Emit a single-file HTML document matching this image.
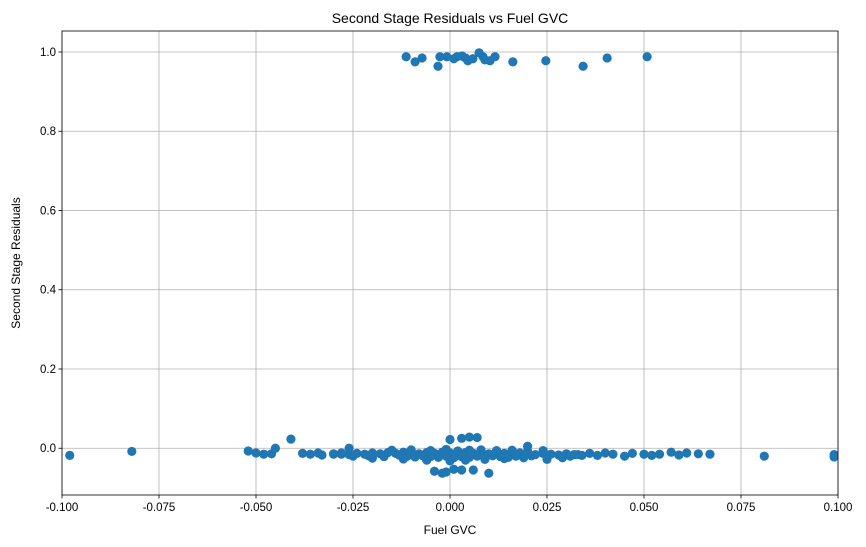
<!DOCTYPE html>
<html><head><meta charset="utf-8"><style>
body{margin:0;background:#fff;}
svg{display:block;font-family:"Liberation Sans","DejaVu Sans",sans-serif;}
</style></head><body>
<svg id="chart" width="866" height="547" viewBox="0 0 866 547"></svg>
<script>
const xTicks=[-0.100,-0.075,-0.050,-0.025,0.000,0.025,0.050,0.075,0.100];
const xTickLabels=["-0.100","-0.075","-0.050","-0.025","0.000","0.025","0.050","0.075","0.100"];
const yTicks=[0.0,0.2,0.4,0.6,0.8,1.0];
const yTickLabels=["0.0","0.2","0.4","0.6","0.8","1.0"];
const topX=[-0.0113,-0.009,-0.0072,-0.0031,-0.0026,-0.0008,0.001,0.0018,0.0031,0.004,0.0046,0.0059,0.0075,0.0085,0.009,0.0103,0.0116,0.0162,0.0247,0.0343,0.0405,0.0508];
const topY=[0.988,0.975,0.985,0.964,0.988,0.988,0.983,0.988,0.990,0.985,0.978,0.983,0.998,0.988,0.980,0.978,0.988,0.975,0.978,0.964,0.985,0.988];
const outX=[-0.098,-0.082,-0.052,-0.050,-0.048,-0.046,-0.045,-0.041,-0.038,-0.036,-0.034,-0.033,-0.030,-0.028,-0.026,0.000,0.003,0.005,0.007,0.020,-0.004,-0.002,-0.001,0.001,0.003,0.006,0.010,0.045,0.047,0.050,0.052,0.054,0.057,0.059,0.061,0.064,0.067,0.081,0.099,0.099,0.042,0.040,0.038,0.036,0.033,0.031];
const outY=[-0.018,-0.008,-0.007,-0.012,-0.015,-0.014,0.000,0.023,-0.013,-0.015,-0.012,-0.017,-0.015,-0.015,0.000,0.022,0.025,0.028,0.027,0.005,-0.058,-0.063,-0.060,-0.053,-0.055,-0.055,-0.063,-0.020,-0.013,-0.015,-0.018,-0.015,-0.010,-0.017,-0.012,-0.014,-0.015,-0.020,-0.016,-0.022,-0.015,-0.012,-0.018,-0.013,-0.016,-0.020];
const bandX=[-0.030,-0.028,-0.026,-0.024,-0.022,-0.020,-0.018,-0.016,-0.014,-0.012,-0.010,-0.008,-0.006,-0.004,-0.002,0.000,0.002,0.004,0.006,0.008,0.010,0.012,0.014,0.016,0.018,0.020,0.022,0.024,0.026,0.028,0.030,0.032,0.034,
-0.025,-0.021,-0.017,-0.013,-0.011,-0.009,-0.007,-0.005,-0.003,-0.001,0.001,0.003,0.005,0.007,0.009,0.011,0.013,0.015,0.017,0.019,0.021,0.025,0.029,
-0.015,-0.010,-0.005,-0.001,0.002,0.005,0.008,0.012,0.016,0.020,0.024,-0.020,-0.012,-0.006,0.000,0.004,0.009,0.014,0.019];
const bandY=[-0.014,-0.012,-0.016,-0.013,-0.015,-0.012,-0.014,-0.011,-0.013,-0.010,-0.012,-0.014,-0.011,-0.013,-0.010,-0.012,-0.014,-0.011,-0.013,-0.012,-0.014,-0.011,-0.013,-0.015,-0.012,-0.014,-0.016,-0.013,-0.015,-0.017,-0.014,-0.016,-0.018,
-0.020,-0.019,-0.021,-0.018,-0.020,-0.022,-0.019,-0.021,-0.023,-0.020,-0.024,-0.021,-0.023,-0.020,-0.022,-0.019,-0.021,-0.023,-0.020,-0.022,-0.019,-0.028,-0.024,
-0.005,-0.004,-0.006,-0.003,-0.007,-0.005,-0.004,-0.006,-0.005,-0.007,-0.006,-0.025,-0.027,-0.030,-0.032,-0.030,-0.028,-0.026,-0.024];

const L=62,R=838,T=31,B=495;
const xs=v=>L+(v+0.1)/0.2*(R-L);
const ys=v=>B-(v+0.118)/(1.053+0.118)*(B-T);
const svg=document.getElementById('chart');
const NS='http://www.w3.org/2000/svg';
function mk(tag,attrs,parent){const e=document.createElementNS(NS,tag);for(const k in attrs)e.setAttribute(k,attrs[k]);(parent||svg).appendChild(e);return e;}

const grid=mk('g',{});


xTicks.forEach((t,i)=>{
  const x=xs(t);
  const gl=mk('line',{x1:x,x2:x,y1:T,y2:B,stroke:'#b0b0b0','stroke-width':0.8},grid);
  
  
  mk('line',{x1:x,x2:x,y1:B,y2:B+3.5,stroke:'#000','stroke-width':0.8});
  const tx=mk('text',{x:x,y:B+16,'font-size':11.5,'text-anchor':'middle'});
  tx.textContent=xTickLabels[i];
  
  
});
yTicks.forEach((t,i)=>{
  const y=ys(t);
  const gl=mk('line',{x1:L,x2:R,y1:y,y2:y,stroke:'#b0b0b0','stroke-width':0.8},grid);
  
  
  mk('line',{x1:L-3.5,x2:L,y1:y,y2:y,stroke:'#000','stroke-width':0.8});
  const tx=mk('text',{x:L-6,y:y+4,'font-size':11.5,'text-anchor':'end'});
  tx.textContent=yTickLabels[i];
  
  
});

const pts=mk('g',{'clip-path':'url(#clip)'});


const defs=mk('defs',{});
const cp=mk('clipPath',{id:'clip'},defs);
mk('rect',{x:L,y:T,width:R-L,height:B-T},cp);
function plot(X,Y){X.forEach((v,i)=>{
  const c=mk('circle',{cx:xs(v),cy:ys(Y[i]),r:4.6,fill:'#1f77b4'},pts);
  
  
});}
plot(bandX,bandY);plot(outX,outY);plot(topX,topY);

const frame=mk('rect',{x:L,y:T,width:R-L,height:B-T,fill:'none',stroke:'#000','stroke-width':0.8});



const title=mk('text',{x:(L+R)/2,y:T-8,'font-size':14,'text-anchor':'middle'});
title.textContent='Second Stage Residuals vs Fuel GVC';


const xl=mk('text',{x:(L+R)/2,y:534,'font-size':12,'text-anchor':'middle'});
xl.textContent='Fuel GVC';


const yl=mk('text',{x:0,y:0,'font-size':12,'text-anchor':'middle',transform:`translate(20,${(T+B)/2}) rotate(-90)`});
yl.textContent='Second Stage Residuals';


</script>
</body></html>
